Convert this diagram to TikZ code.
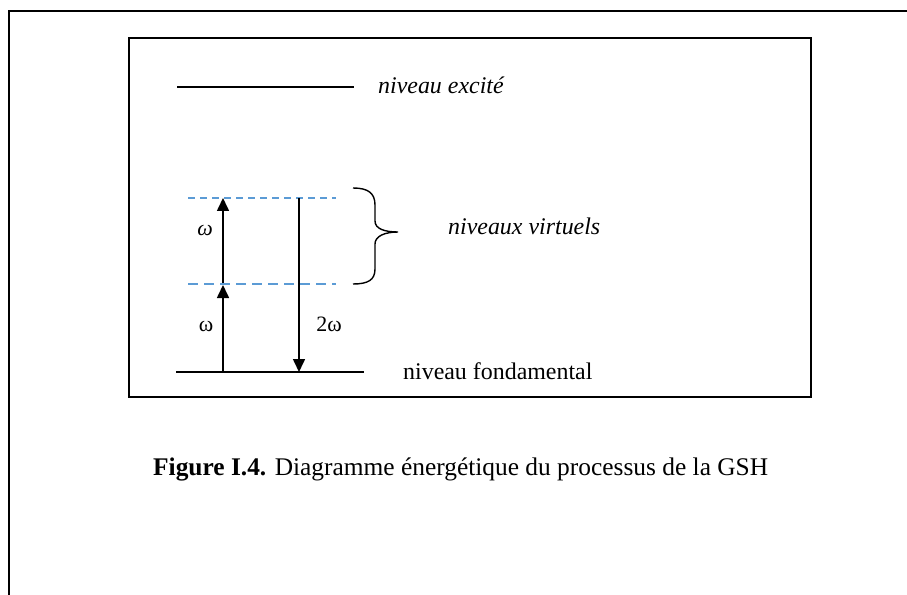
\documentclass[tikz,border=0pt]{standalone}
\usepackage{fontspec}
\setmainfont{Liberation Serif}
\usetikzlibrary{arrows.meta}
\definecolor{virtblue}{HTML}{5B9BD5}
\begin{document}
\begin{tikzpicture}[x=1bp,y=-1bp,
  level/.style={line width=1.6bp},
  virt/.style={virtblue, line width=1.2bp},
  arr/.style={line width=1.6bp, -{Triangle[length=13bp,width=12bp]}},
  lbl/.style={font=\fontsize{22}{26}\selectfont, inner sep=0pt},
  txt/.style={font=\fontsize{24}{28}\selectfont, inner sep=0pt, anchor=base west}]
\useasboundingbox (0,0) rectangle (907,595);

% page frame and figure box
\draw[line width=2.2bp] (9,600) -- (9,11) -- (910,11);
\draw[line width=1.5bp] (129,38) rectangle (811,397);

% energy levels
\coordinate (ex1) at (177,87);  \coordinate (ex2) at (354,87);
\coordinate (gr1) at (176,372); \coordinate (gr2) at (364,372);
\coordinate (vu1) at (188,198); \coordinate (vu2) at (336,198);
\coordinate (vl1) at (188,284); \coordinate (vl2) at (336,284);
\draw[level] (ex1) -- (ex2);
\draw[level] (gr1) -- (gr2);
\draw[virt, dash pattern=on 7bp off 5bp] (vu1) -- (vu2);
\draw[virt, dash pattern=on 10bp off 6bp] (vl1) -- (vl2);

% transitions
\coordinate (a0) at (223,372);
\coordinate (a1) at (223,285);
\coordinate (a1s) at (223,283);
\coordinate (a2) at (223,198);
\coordinate (b0) at (299,198);
\coordinate (b1) at (299,372);
\draw[arr] (a0) -- (a1);
\draw[arr] (a1s) -- (a2);
\draw[arr] (b0) -- (b1);

\node[lbl, anchor=base] (w1) at (205,236) {\textit{ω}};
\node[lbl, anchor=base] (w2) at (206,331) {ω};
\node[lbl, anchor=base] (w3) at (329,331) {2ω};

% brace grouping the virtual levels
\draw[line width=1.4bp] (353,188) .. controls (368,188) and (375,193) .. (375,205)
  -- (375,221) .. controls (375,229) and (385,232) .. (398,232)
  .. controls (385,232) and (375,236) .. (375,244)
  -- (375,269) .. controls (375,280) and (368,284) .. (353,284);

% level names
\node[txt] (nex) at (378,94) {\textit{niveau excité}};
\node[txt] (nvi) at (448,235) {\textit{niveaux virtuels}};
\node[txt] (nfo) at (403,379) {niveau fondamental};

% caption
\node[txt, font=\fontsize{25.5}{30}\selectfont] (cap) at (153,475) {\textbf{Figure I.4.} Diagramme énergétique du processus de la GSH};
\end{tikzpicture}
\end{document}
